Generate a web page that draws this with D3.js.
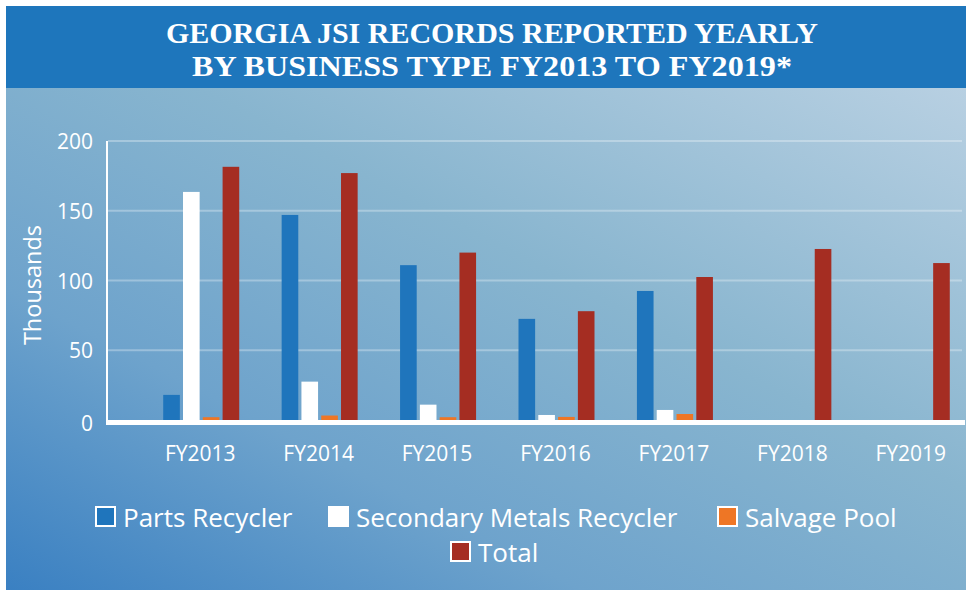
<!DOCTYPE html>
<html>
<head>
<meta charset="utf-8">
<script src="https://cdn.jsdelivr.net/npm/d3@7"></script>
<style>
  body { margin: 0; background: #fff; }
  svg { display: block; }
  text { font-family: "Open Sans", "Noto Sans", sans-serif; fill: #fff; }
</style>
</head>
<body>
<script>
// chart data (thousands of records)
var years = ["FY2013", "FY2014", "FY2015", "FY2016", "FY2017", "FY2018", "FY2019"];
var partsRecycler = [18, 147, 111, 72.5, 92.5, 0, 0];
var secondaryMetals = [163.5, 27.5, 11, 3.6, 7.2, 0, 0];
var salvagePool = [2, 3.2, 2, 2.2, 4.3, 0, 0];
var total = [181.5, 177, 120, 78, 102.5, 122.6, 112.5];
var seriesNames = ["Parts Recycler", "Secondary Metals Recycler", "Salvage Pool", "Total"];
var seriesColors = ["#1f75bc", "#ffffff", "#ee7625", "#a52d22"];
var yTicks = [0, 50, 100, 150, 200];

var width = 966, height = 590;

var svg = d3.select("body").append("svg")
    .attr("width", width)
    .attr("height", height);

// background gradient for the chart panel
var defs = svg.append("defs");
var grad = defs.append("linearGradient")
    .attr("id", "bg")
    .attr("x1", "0%").attr("y1", "100%")
    .attr("x2", "100%").attr("y2", "0%");
grad.append("stop").attr("offset", "0%").attr("stop-color", "#3a80c2");
grad.append("stop").attr("offset", "30%").attr("stop-color", "#6ea3cc");
grad.append("stop").attr("offset", "60%").attr("stop-color", "#88b5cf");
grad.append("stop").attr("offset", "100%").attr("stop-color", "#b8d0e2");

svg.append("rect")
    .attr("x", 6).attr("y", 88)
    .attr("width", 960).attr("height", 502)
    .attr("fill", "url(#bg)");

// title band
svg.append("rect")
    .attr("x", 6).attr("y", 6)
    .attr("width", 960).attr("height", 82)
    .attr("fill", "#1e76bc");

var titleLines = ["GEORGIA JSI RECORDS REPORTED YEARLY", "BY BUSINESS TYPE FY2013 TO FY2019*"];
var titleWidths = [652, 600];
svg.selectAll(".title")
    .data(titleLines)
    .enter().append("text")
    .attr("class", "title")
    .attr("x", 492)
    .attr("y", function(d, i) { return 43 + i * 33; })
    .attr("text-anchor", "middle")
    .attr("textLength", function(d, i) { return titleWidths[i]; })
    .attr("lengthAdjust", "spacingAndGlyphs")
    .style("font-family", "'Liberation Serif', 'DejaVu Serif', serif")
    .style("font-weight", "bold")
    .style("font-size", "29px")
    .text(function(d) { return d; });

// scales
var x0 = d3.scaleBand()
    .domain(years)
    .range([141, 970]);

var x1 = d3.scaleBand()
    .domain(d3.range(4))
    .range([-37, 39])
    .paddingInner(0.16);

var y = d3.scaleLinear()
    .domain([0, 200])
    .range([420, 141]);

// gridlines
svg.selectAll(".grid")
    .data(yTicks.slice(1))
    .enter().append("line")
    .attr("x1", 108).attr("x2", 962)
    .attr("y1", function(d) { return y(d); })
    .attr("y2", function(d) { return y(d); })
    .attr("stroke", "#ffffff")
    .attr("stroke-opacity", 0.3)
    .attr("stroke-width", 2);

// y axis labels
svg.selectAll(".ylab")
    .data(yTicks)
    .enter().append("text")
    .attr("x", 93)
    .attr("y", function(d) { return y(d) + 8 + (d === 0 ? 3 : 0); })
    .attr("text-anchor", "end")
    .style("font-size", "21px")
    .text(function(d) { return d; });

svg.append("text")
    .attr("transform", "translate(41,285) rotate(-90)")
    .attr("text-anchor", "middle")
    .style("font-size", "23.5px")
    .text("Thousands");

// bars
var seriesData = [partsRecycler, secondaryMetals, salvagePool, total];
var groups = svg.selectAll(".group")
    .data(years)
    .enter().append("g")
    .attr("transform", function(d) { return "translate(" + (x0(d) + x0.bandwidth() / 2) + ",0)"; });

groups.selectAll("rect")
    .data(function(d, i) { return seriesData.map(function(s, k) { return { k: k, v: s[i] }; }); })
    .enter().append("rect")
    .filter(function(d) { return d.v > 0; })
    .attr("x", function(d) { return x1(d.k); })
    .attr("width", x1.bandwidth())
    .attr("y", function(d) { return y(d.v); })
    .attr("height", function(d) { return y(0) - y(d.v); })
    .attr("fill", function(d) { return seriesColors[d.k]; });

// axis lines
svg.append("line")
    .attr("x1", 107).attr("x2", 107)
    .attr("y1", 141).attr("y2", 423)
    .attr("stroke", "#fff").attr("stroke-width", 2);
svg.append("line")
    .attr("x1", 106).attr("x2", 965)
    .attr("y1", y(0) + 2.5).attr("y2", y(0) + 2.5)
    .attr("stroke", "#fff").attr("stroke-width", 5);

// x labels
svg.selectAll(".xlab")
    .data(years)
    .enter().append("text")
    .attr("x", function(d) { return x0(d) + x0.bandwidth() / 2; })
    .attr("y", 461)
    .attr("text-anchor", "middle")
    .style("font-size", "21px")
    .text(function(d) { return d; });

// legend
var legendPos = [[95, 517], [328, 517], [717, 517], [450, 552]];
var legend = svg.selectAll(".legend")
    .data(seriesNames)
    .enter().append("g")
    .attr("transform", function(d, i) { return "translate(" + legendPos[i][0] + "," + legendPos[i][1] + ")"; });

legend.append("rect")
    .attr("x", 1).attr("y", -10)
    .attr("width", 19).attr("height", 19)
    .attr("fill", function(d, i) { return seriesColors[i]; })
    .attr("stroke", "#fff")
    .attr("stroke-width", 2);

legend.append("text")
    .attr("x", 28)
    .attr("y", 10)
    .style("font-size", "26px")
    .text(function(d) { return d; });
</script>
</body>
</html>
